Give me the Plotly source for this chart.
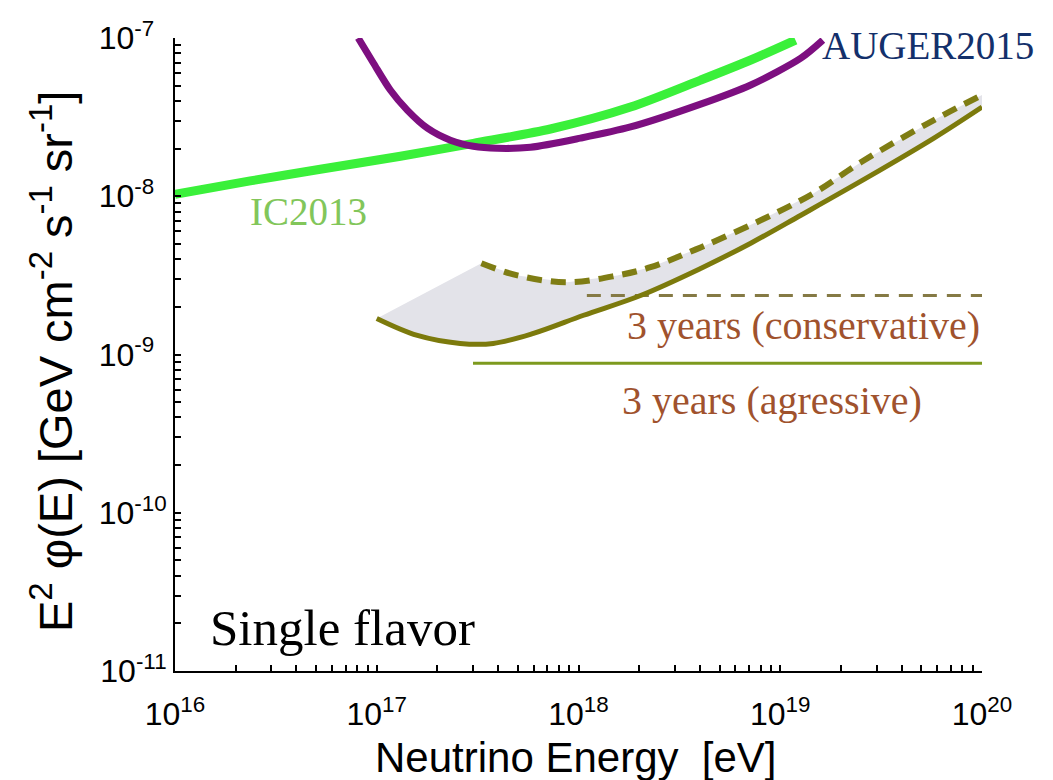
import plotly.graph_objects as go

# ---------------- data ----------------
# IceCube 2013 limit (IC2013)
ic_energy = [1.0e16, 2.36e16, 5.25e16, 1.31e17, 3.01e17, 7.26e17, 1.81e18, 4.03e18, 7.14e18, 1.19e19]
ic_flux = [1.03e-8, 1.25e-8, 1.48e-8, 1.79e-8, 2.16e-8, 2.66e-8, 3.66e-8, 5.42e-8, 7.26e-8, 9.7e-8]

# Pierre Auger 2015 limit (AUGER2015)
auger_energy = [8.09e16, 9.62e16, 1.167e17, 1.416e17, 1.782e17, 2.317e17, 3.01e17, 3.96e17,
                5.78e17, 1.023e18, 1.81e18, 4.03e18, 7.14e18, 1.265e19, 1.626e19]
auger_flux = [1.0e-7, 6.95e-8, 4.69e-8, 3.50e-8, 2.69e-8, 2.26e-8, 2.07e-8, 2.01e-8,
              2.04e-8, 2.33e-8, 2.74e-8, 3.82e-8, 5.05e-8, 7.46e-8, 9.7e-8]

# 3-year sensitivity, aggressive (solid curve)
aggr_energy = [1.0e17, 1.59e17, 2.59e17, 3.78e17, 5.98e17, 1.06e18, 2.03e18, 4.03e18,
               7.14e18, 1.265e19, 2.72e19, 5.78e19, 1.0e20]
aggr_flux = [1.69e-9, 1.32e-9, 1.175e-9, 1.175e-9, 1.36e-9, 1.77e-9, 2.36e-9, 3.5e-9,
             5.05e-9, 7.59e-9, 1.32e-8, 2.33e-8, 3.66e-8]

# 3-year sensitivity, conservative (dashed curve)
cons_energy = [3.3e17, 4.98e17, 8.81e17, 1.56e18, 2.275e18, 4.03e18, 8.0e18, 1.466e19,
               2.51e19, 5.78e19, 1.0e20]
cons_flux = [3.77e-9, 3.16e-9, 2.86e-9, 3.16e-9, 3.56e-9, 4.75e-9, 7.05e-9, 1.045e-8,
             1.64e-8, 3.03e-8, 4.36e-8]

# Integrated (flat) sensitivity levels
cons_level_energy = [1.1e18, 1.0e20]
cons_level_flux = [2.36e-9, 2.36e-9]
aggr_level_energy = [3.0e17, 1.0e20]
aggr_level_flux = [8.8e-10, 8.8e-10]

# Axis ticks
x_decades = [16, 17, 18, 19, 20]
y_decades = [-11, -10, -9, -8, -7]
minor_steps = [2, 3, 4, 5, 6, 7, 8, 9]
NBSP = "\u00a0"


def log_ticks(decades, pad_short=False):
    vals, texts = [], []
    for d in decades:
        vals.append(10.0 ** d)
        exp = str(d)
        # keep the mantissa "10" left-aligned for one-digit exponents
        if pad_short and len(exp.lstrip("-")) == 1:
            exp += NBSP * 2
        texts.append(f"10<sup>{exp}</sup>")
        if d != decades[-1]:
            for m in minor_steps:
                vals.append(m * 10.0 ** d)
                texts.append("")
    return vals, texts


xt_vals, xt_text = log_ticks(x_decades)
yt_vals, yt_text = log_ticks(y_decades, pad_short=True)

OLIVE = "#7c7a0c"
OLIVE_DASH = "#7f7d14"
LEVEL_SOLID = "#7d9a1e"
LEVEL_DASH = "#857a45"
BROWN = "#a0522d"

fig = go.Figure()

# shaded band between aggressive and conservative curves
fig.add_trace(go.Scatter(
    x=aggr_energy + cons_energy[::-1],
    y=aggr_flux + cons_flux[::-1],
    fill="toself", fillcolor="rgb(227,227,233)",
    line=dict(width=0), mode="lines", hoverinfo="skip",
))

fig.add_trace(go.Scatter(x=ic_energy, y=ic_flux, mode="lines",
                         line=dict(color="#3af03a", width=9, shape="spline", smoothing=0.8)))
fig.add_trace(go.Scatter(x=auger_energy, y=auger_flux, mode="lines",
                         line=dict(color="#7d0f80", width=7, shape="spline", smoothing=0.8)))

fig.add_trace(go.Scatter(x=cons_level_energy, y=cons_level_flux, mode="lines",
                         line=dict(color=LEVEL_DASH, width=3, dash="14px,10px")))
fig.add_trace(go.Scatter(x=aggr_level_energy, y=aggr_level_flux, mode="lines",
                         line=dict(color=LEVEL_SOLID, width=3)))

fig.add_trace(go.Scatter(x=cons_energy, y=cons_flux, mode="lines",
                         line=dict(color=OLIVE_DASH, width=6, dash="15px,9px", shape="spline")))
fig.add_trace(go.Scatter(x=aggr_energy, y=aggr_flux, mode="lines",
                         line=dict(color=OLIVE, width=5, shape="spline")))

tick_font = dict(family="Liberation Sans, Arial, sans-serif", size=32, color="black")
axis_common = dict(
    type="log", showline=True, linecolor="black", linewidth=2,
    ticks="inside", ticklen=6, tickwidth=1.5, tickcolor="black",
    showgrid=False, zeroline=False, mirror=False, tickfont=tick_font,
)

fig.update_xaxes(range=[16, 20], tickvals=xt_vals, ticktext=xt_text,
                 ticklabelstandoff=14, **axis_common)
fig.update_yaxes(range=[-11, -7], tickvals=yt_vals, ticktext=yt_text,
                 ticklabelstandoff=0, **axis_common)

W, H = 1053, 780
L, R, T, B = 175, 71, 38, 109
PW, PH = W - L - R, H - T - B


def px(xp):
    return (xp - L) / PW


def py(yp):
    return (H - B - yp) / PH


serif = "Liberation Serif, Times New Roman, serif"
sans = "Liberation Sans, Arial, sans-serif"

annotations = [
    dict(text="E<sup>2</sup> φ(E) [GeV cm<sup>-2</sup> s<sup>-1</sup> sr<sup>-1</sup>]",
         x=px(52), y=py(362), textangle=-90, xanchor="center", yanchor="middle",
         font=dict(family=sans, size=47, color="black")),
    dict(text="Neutrino Energy  [eV]", x=px(576), y=py(757), xanchor="center", yanchor="middle",
         font=dict(family=sans, size=42, color="black")),
    dict(text="IC2013", x=px(248), y=py(211), xanchor="left", yanchor="middle",
         font=dict(family=serif, size=39, color="#82c65a")),
    dict(text="AUGER2015", x=px(820), y=py(46), xanchor="left", yanchor="middle",
         font=dict(family=serif, size=39, color="#13306b")),
    dict(text="3 years (conservative)", x=px(625), y=py(325), xanchor="left", yanchor="middle",
         font=dict(family=serif, size=40, color=BROWN)),
    dict(text="3 years (agressive)", x=px(620), y=py(400), xanchor="left", yanchor="middle",
         font=dict(family=serif, size=40, color=BROWN)),
    dict(text="Single flavor", x=px(208), y=py(628), xanchor="left", yanchor="middle",
         font=dict(family=serif, size=51, color="black")),
]
for a in annotations:
    a.update(xref="paper", yref="paper", showarrow=False)

fig.update_layout(
    width=W, height=H,
    margin=dict(l=L, r=R, t=T, b=B),
    plot_bgcolor="white", paper_bgcolor="white",
    showlegend=False,
    annotations=annotations,
)

fig.write_html("out.html")
